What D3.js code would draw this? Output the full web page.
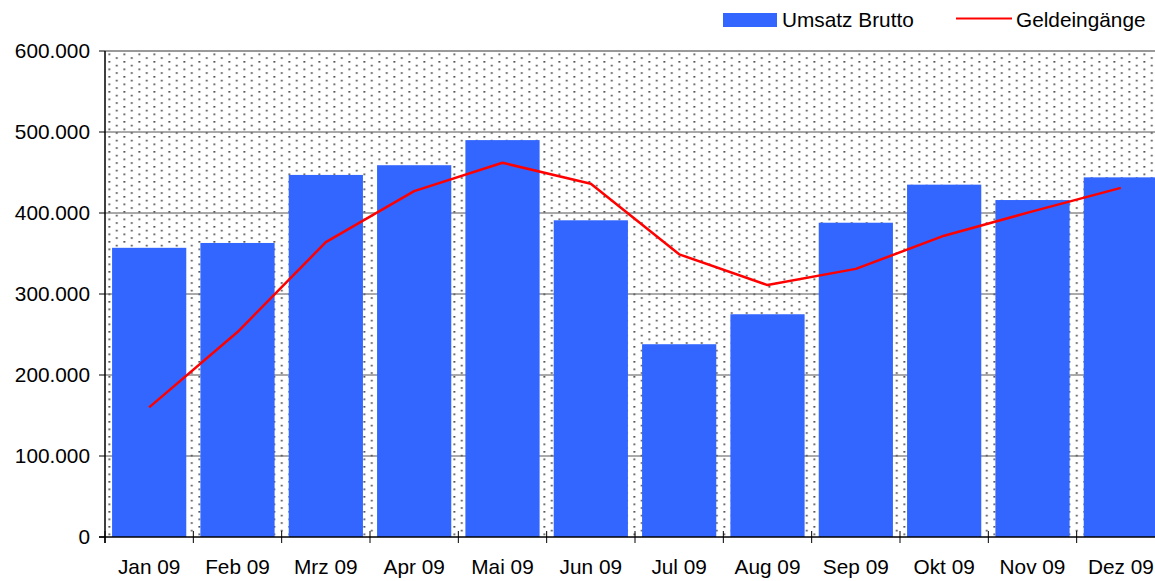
<!DOCTYPE html>
<html>
<head>
<meta charset="utf-8">
<script src="https://cdn.jsdelivr.net/npm/d3@7"></script>
<style>
  html, body { margin: 0; padding: 0; background: #fff; }
  svg { display: block; font-family: "Liberation Sans", Arial, sans-serif; }
</style>
</head>
<body>
<svg id="chart" width="1155" height="581"></svg>
<script>
const categories = ["Jan 09","Feb 09","Mrz 09","Apr 09","Mai 09","Jun 09","Jul 09","Aug 09","Sep 09","Okt 09","Nov 09","Dez 09"];
const umsatzBrutto = [357000, 363000, 447000, 459000, 490000, 391000, 238000, 275000, 388000, 435000, 416000, 444000];
const geldeingaenge = [160000, 253000, 364000, 427000, 462000, 436000, 349000, 311000, 331000, 372000, 402000, 431000];
const yTicks = [0, 100000, 200000, 300000, 400000, 500000, 600000];
const seriesNames = ["Umsatz Brutto", "Geldeingänge"];

(function () {
const svg = d3.select("#chart");
const pLeft = 105, pRight = 1165, pTop = 51, pBottom = 537;
const fontSize = 20.8;

const de = d3.formatLocale({decimal: ",", thousands: ".", grouping: [3], currency: ["", " €"]});
const fmt = de.format(",");

const x = d3.scaleBand().domain(categories).range([pLeft, pRight]).paddingInner(0.16).paddingOuter(0.08);
const y = d3.scaleLinear().domain([0, 600000]).range([pBottom, pTop]);

// pattern
const defs = svg.append("defs");
const pat = defs.append("pattern").attr("id", "dots").attr("patternUnits", "userSpaceOnUse")
  .attr("x", 108.5).attr("y", 53.5).attr("width", 15).attr("height", 7.5);
pat.append("rect").attr("x", 0).attr("y", 0).attr("width", 1.6).attr("height", 1.6).attr("fill", "#2a2a2a");
pat.append("rect").attr("x", 7.5).attr("y", 3.75).attr("width", 1.6).attr("height", 1.6).attr("fill", "#2a2a2a");

svg.append("rect").attr("x", pLeft).attr("y", pTop).attr("width", pRight - pLeft).attr("height", pBottom - pTop)
  .attr("fill", "url(#dots)");

// gridlines
svg.append("g").selectAll("line").data(yTicks.filter(d => d > 0)).join("line")
  .attr("x1", pLeft).attr("x2", pRight)
  .attr("y1", d => y(d)).attr("y2", d => y(d))
  .attr("stroke", d => d === 600000 ? "#999" : "#555")
  .attr("stroke-width", d => d === 600000 ? 2 : 1);

// bars
svg.append("g").selectAll("rect").data(umsatzBrutto).join("rect")
  .attr("x", (d, i) => x(categories[i]))
  .attr("width", x.bandwidth())
  .attr("y", d => y(d))
  .attr("height", d => y(0) - y(d))
  .attr("fill", "#3366FF");

// line
const line = d3.line()
  .x((d, i) => x(categories[i]) + x.bandwidth() / 2)
  .y(d => y(d));
svg.append("path").datum(geldeingaenge)
  .attr("d", line).attr("fill", "none").attr("stroke", "#FF0000").attr("stroke-width", 2.5)
  .attr("stroke-linejoin", "round");

// axes lines
svg.append("line").attr("x1", pLeft).attr("x2", pLeft).attr("y1", pTop).attr("y2", pBottom + 6)
  .attr("stroke", "#000").attr("stroke-width", 1.5);
svg.append("line").attr("x1", pLeft - 6).attr("x2", pRight).attr("y1", pBottom).attr("y2", pBottom)
  .attr("stroke", "#000").attr("stroke-width", 1.5);

// y ticks
const yAxis = svg.append("g");
yAxis.selectAll("line").data(yTicks).join("line")
  .attr("x1", pLeft - 6).attr("x2", pLeft).attr("y1", d => y(d)).attr("y2", d => y(d))
  .attr("stroke", "#000").attr("stroke-width", 1);
yAxis.selectAll("text").data(yTicks).join("text")
  .attr("x", 90).attr("y", d => y(d)).attr("dy", "0.35em")
  .attr("text-anchor", "end").attr("font-size", fontSize).attr("fill", "#000")
  .text(d => fmt(d));

// x ticks at band boundaries
const half = x.step() * x.paddingInner() / 2;
const xAxis = svg.append("g");
xAxis.selectAll("line").data(categories).join("line")
  .attr("x1", d => x(d) - half).attr("x2", d => x(d) - half)
  .attr("y1", pBottom - 6).attr("y2", pBottom + 6)
  .attr("stroke", "#000").attr("stroke-width", 1);
xAxis.selectAll("text").data(categories).join("text")
  .attr("x", d => x(d) + x.bandwidth() / 2).attr("y", pBottom + 37)
  .attr("text-anchor", "middle").attr("font-size", fontSize).attr("fill", "#000")
  .text(d => d);

// legend
const lg = svg.append("g");
lg.append("rect").attr("x", 723).attr("y", 13).attr("width", 54).attr("height", 14).attr("fill", "#3366FF");
lg.append("text").attr("x", 782).attr("y", 27).attr("font-size", fontSize).attr("fill", "#000").text(seriesNames[0]);
lg.append("line").attr("x1", 956).attr("x2", 1012).attr("y1", 18.5).attr("y2", 18.5)
  .attr("stroke", "#FF0000").attr("stroke-width", 2);
lg.append("text").attr("x", 1016).attr("y", 27).attr("font-size", fontSize).attr("fill", "#000").text(seriesNames[1]);
})();
</script>
</body>
</html>
